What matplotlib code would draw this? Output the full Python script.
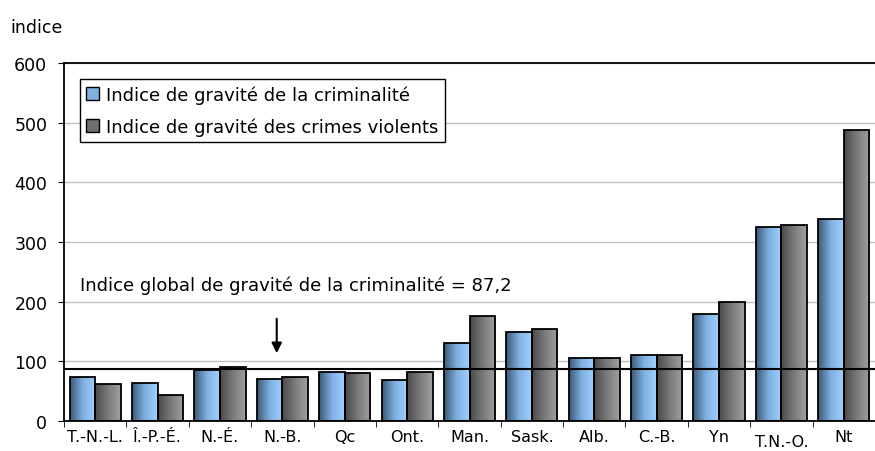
import numpy as np
import matplotlib.pyplot as plt
from matplotlib.colors import LinearSegmentedColormap
from matplotlib.patches import Patch

provinces = ['T.-N.-L.', 'Î.-P.-É.', 'N.-É.', 'N.-B.', 'Qc', 'Ont.', 'Man.',
             'Sask.', 'Alb.', 'C.-B.', 'Yn', 'T.N.-O.', 'Nt']
csi = [73, 64, 85, 70, 82, 69, 131, 150, 105, 111, 180, 325, 338]
vcsi = [62, 44, 90, 73, 80, 82, 176, 155, 105, 111, 199, 328, 487]
national_csi = 87.2

plt.rcParams['font.family'] = ['DejaVu Sans']

fig = plt.figure(figsize=(8.75, 4.52), dpi=100)
ax = fig.add_axes([64/875, 1-422/452, 1-64/875, (422-64)/452])

blue_cmap = LinearSegmentedColormap.from_list('b', ['#3d5a78', '#7fb0e0', '#9fd0ff'])
gray_cmap = LinearSegmentedColormap.from_list('g', ['#4a4a4a', '#7a7a7a', '#a0a0a0'])
grad = np.linspace(0, 1, 64).reshape(1, -1)

x = np.arange(len(provinces))
w = 0.41

def grad_bars(xpos, vals, cmap):
    bars = ax.bar(xpos, vals, w, facecolor='none', edgecolor='black', linewidth=1.3, zorder=3)
    for b in bars:
        x0, y0 = b.get_x(), b.get_y()
        im = ax.imshow(grad, extent=[x0, x0 + b.get_width(), y0, y0 + b.get_height()],
                       cmap=cmap, aspect='auto', zorder=2)
        im.set_clip_path(b)
    return bars

grad_bars(x - w/2, csi, blue_cmap)
grad_bars(x + w/2, vcsi, gray_cmap)

ax.axhline(national_csi, color='black', linewidth=1.5, zorder=4)

ax.set_xlim(-0.5, len(provinces) - 0.5)
ax.set_ylim(0, 600)
ax.set_yticks(range(0, 601, 100))
ax.yaxis.grid(True, color='#c0c0c0', linewidth=1)
ax.set_axisbelow(True)
ax.tick_params(axis='y', labelsize=12.5, length=4, pad=8)
ax.set_xticks(x)
ax.set_xticklabels(provinces, fontsize=11.5)
ax.tick_params(axis='x', length=0, pad=6)
ax.set_xticks(np.arange(-0.5, len(provinces)), minor=True)
ax.tick_params(axis='x', which='minor', length=4)
lbls = ax.get_xticklabels()
lbls[11].set_y(-0.012)

for s in ['left', 'top', 'bottom']:
    ax.spines[s].set_linewidth(1.3)
ax.spines['right'].set_visible(False)

ax.text(-0.25, 229, 'Indice global de gravité de la criminalité = 87,2',
        fontsize=13, va='center', ha='left')
ax.annotate('', xy=(2.91, 109), xytext=(2.91, 176),
            arrowprops=dict(arrowstyle='-|>', color='black', lw=1.5, mutation_scale=15))

fig.text(10/875, 1-28/452, 'indice', fontsize=12.5, va='center')

handles = [Patch(facecolor='#7fb0e0', edgecolor='black'),
           Patch(facecolor='#6e6e6e', edgecolor='black')]
leg = ax.legend(handles, ['Indice de gravité de la criminalité',
                          'Indice de gravité des crimes violents'],
                loc='upper left', bbox_to_anchor=(0.0197, 0.955), fontsize=13,
                frameon=True, fancybox=False, edgecolor='black', framealpha=1,
                handlelength=0.7, handleheight=0.7, handletextpad=0.4,
                borderpad=0.35, labelspacing=0.75, borderaxespad=0)
leg.get_frame().set_linewidth(1)

fig.savefig('out.png', dpi=100)
